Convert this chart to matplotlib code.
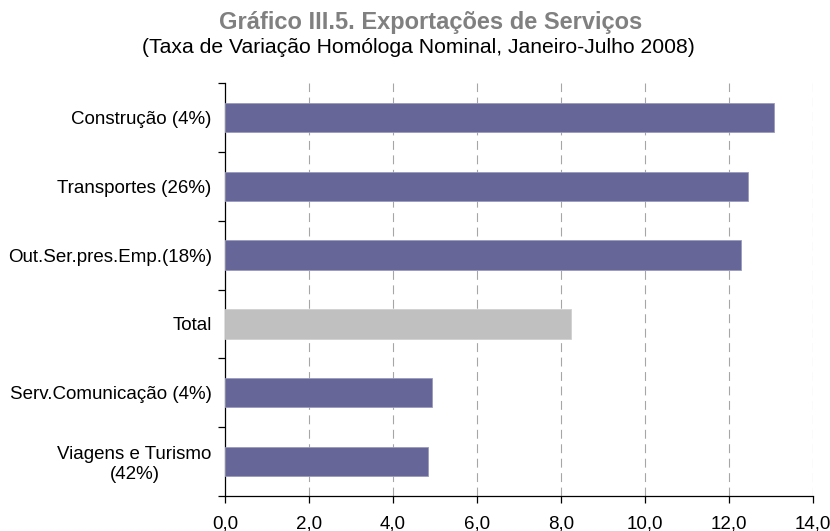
import matplotlib
matplotlib.use('Agg')
import matplotlib.pyplot as plt
import numpy as np
from matplotlib.ticker import FuncFormatter, FixedLocator

plt.rcParams['font.family'] = ['Liberation Sans', 'DejaVu Sans']

categories = ['Construção (4%)', 'Transportes (26%)', 'Out.Ser.pres.Emp.(18%)',
              'Total', 'Serv.Comunicação (4%)', 'Viagens e Turismo\n(42%)']
values = [13.07, 12.46, 12.29, 8.25, 4.94, 4.83]
bar_colors = ['#666699', '#666699', '#666699', '#C0C0C0', '#666699', '#666699']
edge_colors = ['#9a9abf', '#9a9abf', '#9a9abf', '#d0d0d0', '#9a9abf', '#9a9abf']
x_ticks = [0, 2, 4, 6, 8, 10, 12, 14]

fig = plt.figure(figsize=(8.3, 5.31), dpi=100)
ax = fig.add_axes([0.271, 0.0665, 0.7084, 0.7766])

pos = np.arange(len(categories))
ax.barh(pos, values, height=0.43, color=bar_colors, edgecolor=edge_colors, linewidth=0.6, zorder=3)

ax.set_xlim(0, 14)
ax.set_ylim(len(categories) - 0.5, -0.5)

ax.set_xticks(x_ticks)
ax.xaxis.set_major_formatter(FuncFormatter(lambda v, _: f'{v:.1f}'.replace('.', ',')))
for x in x_ticks[1:]:
    ax.axvline(x, color='#a6a6a6', linestyle=(0, (8, 5)), linewidth=0.8, zorder=1)

ax.set_yticks(pos)
ax.set_yticklabels(categories, multialignment='center')
ax.yaxis.set_minor_locator(FixedLocator(np.arange(-0.5, len(categories), 1.0)))
ax.tick_params(axis='y', which='major', length=0, pad=9.5, labelsize=13.5)
ax.tick_params(axis='y', which='minor', length=5, width=0.9, direction='out')
ax.tick_params(axis='x', length=5, width=0.9, direction='out', labelsize=13.5, pad=9)

for side in ['top', 'right']:
    ax.spines[side].set_visible(False)
for side in ['left', 'bottom']:
    ax.spines[side].set_linewidth(0.9)

fig.text(431 / 830, 1 - 29 / 531, 'Gráfico III.5. Exportações de Serviços', ha='center',
         va='baseline', fontsize=17, fontweight='bold', color='#808080')
fig.text(418.5 / 830, 1 - 53 / 531, '(Taxa de Variação Homóloga Nominal, Janeiro-Julho 2008)',
         ha='center', va='baseline', fontsize=15.2, color='black')

fig.savefig('out.png', dpi=100)
